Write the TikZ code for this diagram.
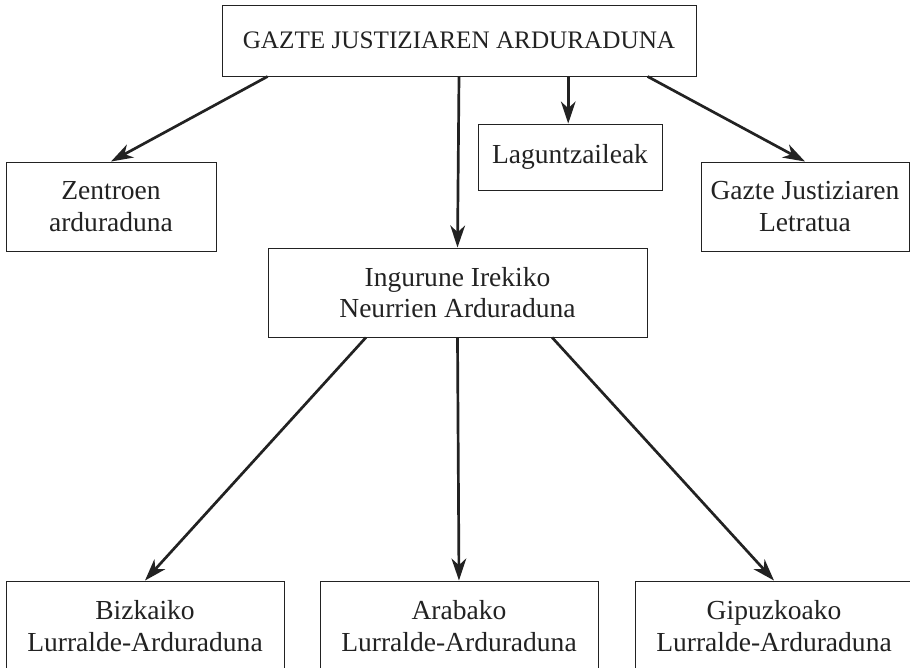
\documentclass[tikz,border=0pt]{standalone}
\usepackage{fontspec}
\setmainfont{Liberation Serif}
\usepackage{tikz}
\usetikzlibrary{arrows.meta,calc}
\definecolor{ink}{RGB}{34,34,34}
\tikzset{
  box/.style={draw=ink,line width=0.8pt,align=center,text=ink,inner sep=2pt,
    font=\fontsize{23.5}{27}\selectfont},
  arr/.style={-{Stealth[length=6.6mm,width=4.4mm,inset=2mm]},draw=ink,line width=2.3pt}
}
\begin{document}
\begin{tikzpicture}[x=0.03cm,y=-0.03cm]
\useasboundingbox (0,0) rectangle (910,668);
% head
\node[box,minimum width=14.22cm,minimum height=2.13cm,font=\fontsize{21.5}{26}\selectfont] (gja) at (459,40.5) {GAZTE JUSTIZIAREN ARDURADUNA};
% second row
\node[box,minimum width=6.3cm,minimum height=2.67cm] (zen) at (111,206.5) {Zentroen\\arduraduna};
\node[box,minimum width=5.52cm,minimum height=1.98cm] (lag) at (570,157) {Laguntzaileak};
\node[box,minimum width=6.24cm,minimum height=2.67cm] (let) at (805,206.5) {Gazte Justiziaren\\Letratua};
\node[box,minimum width=11.37cm,minimum height=2.67cm] (ing) at (457.5,292.5) {Ingurune Irekiko\\Neurrien Arduraduna};
% territories
\node[box,minimum width=8.34cm,minimum height=2.7cm] (biz) at (145,626) {Bizkaiko\\Lurralde-Arduraduna};
\node[box,minimum width=8.34cm,minimum height=2.7cm] (ara) at (459,626) {Arabako\\Lurralde-Arduraduna};
\node[box,minimum width=8.34cm,minimum height=2.7cm] (gip) at (774,626) {Gipuzkoako\\Lurralde-Arduraduna};
% arrows
\draw[arr] ($(gja.south west)!0.097!(gja.south east)$) -- (zen.north);
\draw[arr] (gja.south) -- (ing.north);
\draw[arr] ($(gja.south west)!0.73!(gja.south east)$) -- (lag.north -| {$(gja.south west)!0.73!(gja.south east)$});
\draw[arr] ($(gja.south west)!0.897!(gja.south east)$) -- (let.north);
\draw[arr] ($(ing.south west)!0.259!(ing.south east)$) -- (biz.north);
\draw[arr] (ing.south) -- (ara.north);
\draw[arr] ($(ing.south west)!0.749!(ing.south east)$) -- (gip.north);
\end{tikzpicture}
\end{document}
